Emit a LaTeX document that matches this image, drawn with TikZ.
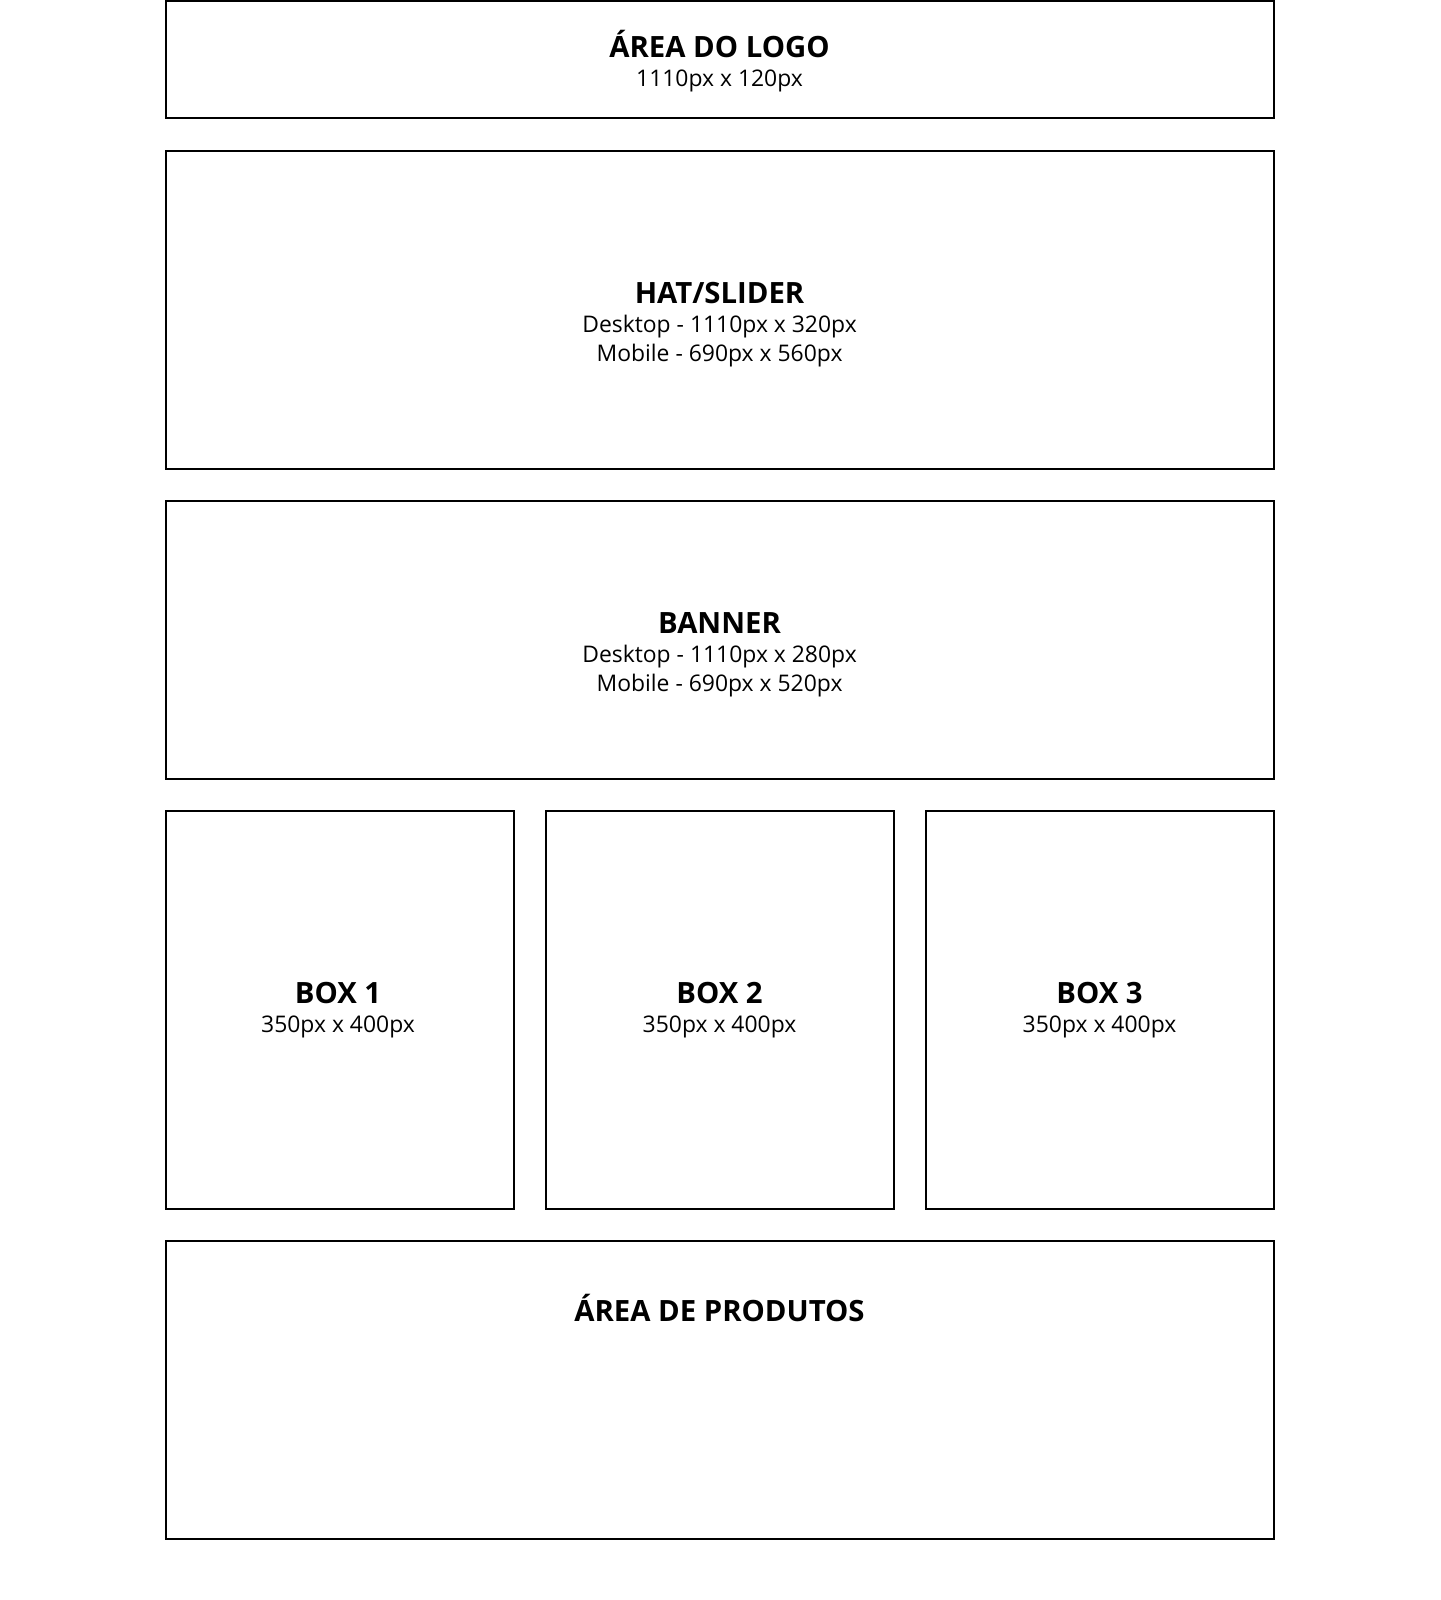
\documentclass[tikz,border=0pt]{standalone}
\usepackage{fontspec}
\setmainfont{Open Sans}
\begin{document}
\begin{tikzpicture}[x=1pt, y=-1pt, line width=2pt,
    titulo/.style={anchor=base, inner sep=0pt, font=\bfseries\fontsize{29.3}{35}\selectfont},
    medida/.style={anchor=base, inner sep=0pt, font=\fontsize{22.9}{28}\selectfont}]
    \useasboundingbox (0,0) rectangle (1440,1600);
        \coordinate (logoA) at (165.5,1);
        \coordinate (logoB) at (1273.5,118);
        \coordinate (hatA) at (165.5,151);
        \coordinate (hatB) at (1273.5,469);
        \coordinate (bannerA) at (165.5,501);
        \coordinate (bannerB) at (1273.5,779);
        \coordinate (boxUmA) at (165.5,811);
        \coordinate (boxUmB) at (513.5,1209);
        \coordinate (boxDoisA) at (546,811);
        \coordinate (boxDoisB) at (893.5,1209);
        \coordinate (boxTresA) at (925.5,811);
        \coordinate (boxTresB) at (1273.5,1209);
        \coordinate (produtosA) at (165.5,1241);
        \coordinate (produtosB) at (1273.5,1539);
        \draw (logoA) rectangle (logoB);
        \draw (hatA) rectangle (hatB);
        \draw (bannerA) rectangle (bannerB);
        \draw (boxUmA) rectangle (boxUmB);
        \draw (boxDoisA) rectangle (boxDoisB);
        \draw (boxTresA) rectangle (boxTresB);
        \draw (produtosA) rectangle (produtosB);
        \node[titulo] (logo) at (719.5,57.5) {ÁREA DO LOGO};
        \node[medida] (logoTam) at (719.5,86.5) {1110px x 120px};
        \node[titulo] (hat) at (719.5,303) {HAT/SLIDER};
        \node[medida] (hatDesk) at (719.5,332) {Desktop - 1110px x 320px};
        \node[medida] (hatMob) at (719.5,361) {Mobile - 690px x 560px};
        \node[titulo] (banner) at (719.5,633) {BANNER};
        \node[medida] (bannerDesk) at (719.5,662) {Desktop - 1110px x 280px};
        \node[medida] (bannerMob) at (719.5,691) {Mobile - 690px x 520px};
        \node[titulo] (boxUm) at (338,1003.5) {BOX 1};
        \node[medida] (boxUmTam) at (338,1032) {350px x 400px};
        \node[titulo] (boxDois) at (719.5,1003.5) {BOX 2};
        \node[medida] (boxDoisTam) at (719.5,1032) {350px x 400px};
        \node[titulo] (boxTres) at (1099.5,1003.5) {BOX 3};
        \node[medida] (boxTresTam) at (1099.5,1032) {350px x 400px};
        \node[titulo] (produtos) at (719.5,1321) {ÁREA DE PRODUTOS};
    \end{tikzpicture}
\end{document}
